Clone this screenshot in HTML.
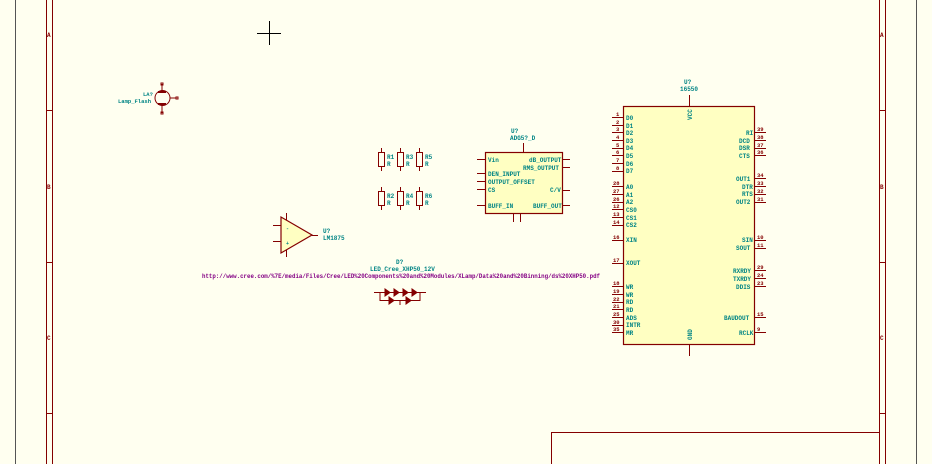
<!DOCTYPE html>
<html><head><meta charset="utf-8"><style>
html,body{margin:0;padding:0;background:#fffff0;}
svg{display:block}
text{font-family:"Liberation Mono",monospace;font-weight:bold}
.l{fill:#008484;font-size:6.5px}
.n{fill:#840000;font-size:5.5px}
.r{stroke:#840000;stroke-width:1;fill:none}
.b{stroke:#840000;stroke-width:1.2;fill:#ffffc2}
</style></head><body>
<svg width="932" height="464" viewBox="0 0 932 464" xmlns="http://www.w3.org/2000/svg">
<rect width="932" height="464" fill="#fffff0"/>
<line x1="15.5" y1="0" x2="15.5" y2="464" stroke="#555" stroke-width="1"/>
<line x1="916.5" y1="0" x2="916.5" y2="464" stroke="#555" stroke-width="1"/>
<g class="r">
<line x1="46.5" y1="0" x2="46.5" y2="464"/><line x1="52.5" y1="0" x2="52.5" y2="464"/>
<line x1="46" y1="110.5" x2="52" y2="110.5"/><line x1="46" y1="262.5" x2="52" y2="262.5"/><line x1="46" y1="413.5" x2="52" y2="413.5"/>
<line x1="879.5" y1="0" x2="879.5" y2="464"/><line x1="885.5" y1="0" x2="885.5" y2="464"/>
<line x1="880" y1="110.5" x2="885" y2="110.5"/><line x1="880" y1="262.5" x2="885" y2="262.5"/><line x1="880" y1="413.5" x2="885" y2="413.5"/>
<polyline points="551.5,464 551.5,432.5 879.5,432.5"/>
</g>
<g style="font-size:6px;fill:#840000">
<text x="47" y="37">A</text><text x="47" y="189">B</text><text x="47" y="340">C</text>
<text x="880" y="37">A</text><text x="880" y="189">B</text><text x="880" y="340">C</text>
</g>
<line x1="257" y1="33.5" x2="281" y2="33.5" stroke="#000" stroke-width="1"/>
<line x1="269.5" y1="21" x2="269.5" y2="45" stroke="#000" stroke-width="1"/>
<g class="r">
<circle cx="162.5" cy="98" r="7.5"/>
<line x1="162" y1="84" x2="162" y2="91"/><line x1="162" y1="105" x2="162" y2="113"/>
<line x1="170" y1="98" x2="176" y2="98"/>
<rect x="161" y="83" width="2" height="2"/><rect x="161" y="112" width="2" height="2"/><rect x="176" y="97" width="2" height="2"/>
<line x1="158" y1="92" x2="166" y2="92" stroke-width="2"/><line x1="158" y1="104" x2="166" y2="104" stroke-width="2"/>
</g>
<text class="l" x="143" y="96" style="font-size:5.5px">LA?</text>
<text class="l" x="118" y="103" style="font-size:5.5px">Lamp_Flash</text>
<g class="r">
<rect x="378.5" y="152.5" width="6" height="14"/><line x1="381.5" y1="148" x2="381.5" y2="152"/><line x1="381.5" y1="167" x2="381.5" y2="171"/>
<rect x="397.5" y="152.5" width="6" height="14"/><line x1="400.5" y1="148" x2="400.5" y2="152"/><line x1="400.5" y1="167" x2="400.5" y2="171"/>
<rect x="416.5" y="152.5" width="6" height="14"/><line x1="419.5" y1="148" x2="419.5" y2="152"/><line x1="419.5" y1="167" x2="419.5" y2="171"/>
<rect x="378.5" y="191.5" width="6" height="14"/><line x1="381.5" y1="187" x2="381.5" y2="191"/><line x1="381.5" y1="206" x2="381.5" y2="210"/>
<rect x="397.5" y="191.5" width="6" height="14"/><line x1="400.5" y1="187" x2="400.5" y2="191"/><line x1="400.5" y1="206" x2="400.5" y2="210"/>
<rect x="416.5" y="191.5" width="6" height="14"/><line x1="419.5" y1="187" x2="419.5" y2="191"/><line x1="419.5" y1="206" x2="419.5" y2="210"/>
</g>
<g class="l" style="font-size:6px">
<text x="387" y="159">R1</text><text x="387" y="166">R</text>
<text x="406" y="159">R3</text><text x="406" y="166">R</text>
<text x="425" y="159">R5</text><text x="425" y="166">R</text>
<text x="387" y="198">R2</text><text x="387" y="205">R</text>
<text x="406" y="198">R4</text><text x="406" y="205">R</text>
<text x="425" y="198">R6</text><text x="425" y="205">R</text>
</g>
<rect class="b" x="485.5" y="152.5" width="77" height="61"/>
<g class="r">
<line x1="523.5" y1="143" x2="523.5" y2="152"/>
<line x1="513.5" y1="214" x2="513.5" y2="222"/><line x1="520.5" y1="214" x2="520.5" y2="222"/>
<line x1="477" y1="159.5" x2="485" y2="159.5"/><line x1="477" y1="173.5" x2="485" y2="173.5"/><line x1="477" y1="181.5" x2="485" y2="181.5"/><line x1="477" y1="189.5" x2="485" y2="189.5"/><line x1="477" y1="205.5" x2="485" y2="205.5"/>
<line x1="563" y1="159.5" x2="570" y2="159.5"/><line x1="563" y1="167.5" x2="570" y2="167.5"/><line x1="563" y1="190.5" x2="570" y2="190.5"/><line x1="563" y1="205.5" x2="570" y2="205.5"/>
</g>
<g class="l" style="font-size:6px">
<text x="511" y="133">U?</text><text x="510" y="140">ADG5?_D</text>
<text x="488" y="162">Vin</text><text x="488" y="176">DEN_INPUT</text><text x="488" y="184">OUTPUT_OFFSET</text><text x="488" y="192">CS</text><text x="488" y="208">BUFF_IN</text>
<text x="529" y="162">dB_OUTPUT</text><text x="523" y="170">RMS_OUTPUT</text><text x="550" y="192">C/V</text><text x="533" y="208">BUFF_OUT</text>
</g>
<polygon class="b" points="281,217 281,253 312,235" stroke-width="1"/>
<g class="r">
<line x1="273" y1="225.5" x2="281" y2="225.5"/><line x1="273" y1="241.5" x2="281" y2="241.5"/>
<line x1="286.5" y1="213" x2="286.5" y2="220"/><line x1="286.5" y1="250" x2="286.5" y2="257"/>
<line x1="312" y1="235.5" x2="318" y2="235.5"/>
</g>
<g class="l" style="font-size:6px"><text x="323" y="233">U?</text><text x="323" y="240">LM1875</text>
<text x="286" y="230" style="font-size:5px">-</text><text x="286" y="245" style="font-size:5px">+</text></g>
<g class="l" style="font-size:6px"><text x="396" y="264">D?</text><text x="370" y="271">LED_Cree_XHP50_12V</text></g>
<text x="202" y="278" style="font-size:6px;fill:#840084" textLength="398" lengthAdjust="spacingAndGlyphs">http://www.cree.com/%7E/media/Files/Cree/LED%20Components%20and%20Modules/XLamp/Data%20and%20Binning/ds%20XHP50.pdf</text>
<g class="r">
<line x1="374" y1="292.5" x2="426" y2="292.5"/>
<polyline points="380,292 380,300.5 420,300.5 420,292"/>
<line x1="400" y1="300" x2="400" y2="305"/>
<polygon points="385,289 385,296 390,292.5" fill="#840000"/><polygon points="394,289 394,296 399,292.5" fill="#840000"/>
<polygon points="403,289 403,296 408,292.5" fill="#840000"/><polygon points="412,289 412,296 417,292.5" fill="#840000"/>
<polygon points="389,297 389,304 394,300.5" fill="#840000"/><polygon points="406,297 406,304 411,300.5" fill="#840000"/>
</g>
<text class="l" x="684" y="84" style="font-size:6px">U?</text>
<text class="l" x="680" y="91" style="font-size:6px">16550</text>
<rect class="b" x="623.5" y="106.5" width="131" height="238"/>
<g class="r">
<line x1="689.5" y1="95" x2="689.5" y2="106"/><line x1="689.5" y1="345" x2="689.5" y2="356"/>
<path d="M612 117.5h11M612 125.5h11M612 132.5h11M612 140.5h11M612 148.5h11M612 155.5h11M612 163.5h11M612 171.5h11M612 186.5h11M612 194.5h11M612 202.5h11M612 209.5h11M612 217.5h11M612 225.5h11M612 240.5h11M612 263.5h11M612 286.5h11M612 294.5h11M612 302.5h11M612 309.5h11M612 317.5h11M612 325.5h11M612 332.5h11"/>
<path d="M755 132.5h11M755 140.5h11M755 148.5h11M755 155.5h11M755 178.5h11M755 186.5h11M755 194.5h11M755 202.5h11M755 240.5h11M755 248.5h11M755 270.5h11M755 278.5h11M755 286.5h11M755 317.5h11M755 332.5h11"/>
</g>
<g class="l" style="font-size:6px">
<text x="626" y="120">D0</text><text x="626" y="128">D1</text><text x="626" y="135">D2</text><text x="626" y="143">D3</text><text x="626" y="150">D4</text><text x="626" y="158">D5</text><text x="626" y="166">D6</text><text x="626" y="173">D7</text>
<text x="626" y="189">A0</text><text x="626" y="197">A1</text><text x="626" y="204">A2</text><text x="626" y="212">CS0</text><text x="626" y="220">CS1</text><text x="626" y="227">CS2</text>
<text x="626" y="242">XIN</text><text x="626" y="265">XOUT</text>
<text x="626" y="289">WR</text><text x="626" y="297">WR</text><text x="626" y="304">RD</text><text x="626" y="312">RD</text><text x="626" y="320">ADS</text><text x="626" y="327">INTR</text><text x="626" y="335">MR</text>
<text x="746" y="135">RI</text><text x="739" y="143">DCD</text><text x="739" y="150">DSR</text><text x="739" y="158">CTS</text>
<text x="736" y="181">OUT1</text><text x="742" y="189">DTR</text><text x="742" y="196">RTS</text><text x="736" y="204">OUT2</text>
<text x="742" y="242">SIN</text><text x="736" y="250">SOUT</text>
<text x="733" y="273">RXRDY</text><text x="733" y="281">TXRDY</text><text x="736" y="289">DDIS</text>
<text x="724" y="320">BAUDOUT</text><text x="739" y="335">RCLK</text>
<text x="0" y="0" transform="translate(692,120) rotate(-90)">VCC</text>
<text x="0" y="0" transform="translate(692,340) rotate(-90)">GND</text>
</g>
<g class="n">
<text x="616" y="116">1</text><text x="616" y="124">2</text><text x="616" y="131">3</text><text x="616" y="139">4</text><text x="616" y="147">5</text><text x="616" y="154">6</text><text x="616" y="162">7</text><text x="616" y="170">8</text>
<text x="613" y="185">28</text><text x="613" y="193">27</text><text x="613" y="201">26</text><text x="613" y="208">12</text><text x="613" y="216">13</text><text x="613" y="224">14</text>
<text x="613" y="239">16</text><text x="613" y="262">17</text><text x="613" y="285">18</text><text x="613" y="293">19</text><text x="613" y="301">22</text><text x="613" y="308">21</text><text x="613" y="316">25</text><text x="613" y="324">30</text><text x="613" y="331">35</text>
<text x="757" y="131">39</text><text x="757" y="139">38</text><text x="757" y="147">37</text><text x="757" y="154">36</text><text x="757" y="177">34</text><text x="757" y="185">33</text><text x="757" y="193">32</text><text x="757" y="201">31</text>
<text x="757" y="239">10</text><text x="757" y="247">11</text><text x="757" y="269">29</text><text x="757" y="277">24</text><text x="757" y="285">23</text><text x="757" y="316">15</text><text x="757" y="331">9</text>
</g>
</svg>
</body></html>
